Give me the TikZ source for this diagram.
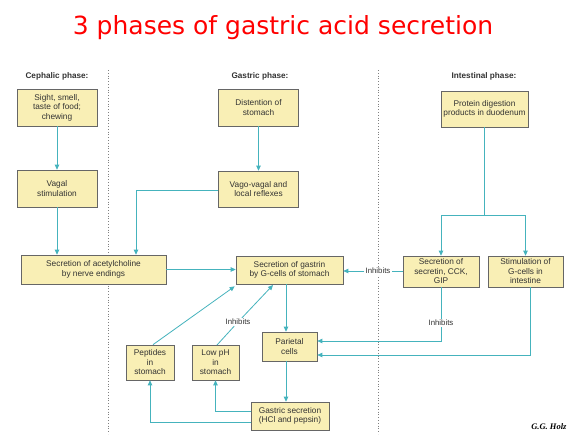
\documentclass[tikz,border=0pt]{standalone}
\usepackage{fontspec}
\setmainfont{Liberation Sans}
\newfontfamily\serifbi{Liberation Serif}
\newfontfamily\titlefont{DejaVu Sans}
\usetikzlibrary{arrows.meta,calc}
\definecolor{tealc}{HTML}{45B3BD}
\definecolor{boxfill}{HTML}{F9EFB5}
\definecolor{boxline}{HTML}{666666}
\definecolor{textc}{HTML}{333333}
\definecolor{titlec}{HTML}{FF0000}
\begin{document}
\begin{tikzpicture}[x=1pt,y=-1pt,
  box/.style={draw=boxline, fill=boxfill, line width=0.7pt, inner sep=1pt, align=center,
    font=\fontsize{8.3}{9.5}\selectfont, text=textc},
  conn/.style={draw=tealc, line width=0.8pt},
  arr/.style={conn, -{Triangle[length=5pt,width=4.5pt]}},
  lbl/.style={fill=white, inner sep=1pt, font=\fontsize{7.8}{9}\selectfont, text=textc},
  hdr/.style={font=\bfseries\fontsize{8.2}{9}\selectfont, text=textc},
  sepline/.style={draw=gray, line width=0.8pt, dash pattern=on 0.8pt off 2pt}]
\useasboundingbox[fill=white] (0,0) rectangle (572,434);

% title
\node[text=titlec, font=\titlefont\fontsize{25}{30}\selectfont] (title) at (283,28) {3 phases of gastric acid secretion};

% phase separators
\coordinate (s1t) at (108,70); \coordinate (s1b) at (108,434);
\coordinate (s2t) at (378,70); \coordinate (s2b) at (378,434);
\draw[sepline] (s1t) -- (s1b);
\draw[sepline] (s2t) -- (s2b);

% headers
\node[hdr] (hceph) at (57,76) {Cephalic phase:};
\node[hdr] (hgast) at (260,76) {Gastric phase:};
\node[hdr] (hint) at (484,76) {Intestinal phase:};

% boxes
\node[box, minimum width=80pt, minimum height=37pt] (sight) at (57,107.5) {Sight, smell,\\taste of food;\\chewing};
\node[box, minimum width=80pt, minimum height=37pt] (vagal) at (57,188.5) {Vagal\\stimulation};
\node[box, minimum width=145pt, minimum height=29pt] (ach) at (93.5,269.5) {Secretion of acetylcholine\\by nerve endings};
\node[box, minimum width=80pt, minimum height=37pt] (dist) at (258.5,107.5) {Distention of\\stomach};
\node[box, minimum width=80pt, minimum height=36pt] (vago) at (258.5,189) {Vago-vagal and\\local reflexes};
\node[box, minimum width=107pt, minimum height=28pt] (gastrin) at (289.5,270) {Secretion of gastrin\\by G-cells of stomach};
\node[box, minimum width=87pt, minimum height=36pt] (protein) at (484.5,109) {Protein digestion\\products in duodenum};
\node[box, minimum width=76pt, minimum height=31pt] (secretin) at (441,271.5) {Secretion of\\secretin, CCK,\\GIP};
\node[box, minimum width=75pt, minimum height=31pt] (stim) at (525.5,271.5) {Stimulation of\\G-cells in\\intestine};
\node[box, minimum width=55pt, minimum height=29pt] (parietal) at (289.5,346.5) {Parietal\\cells};
\node[box, minimum width=48pt, minimum height=35pt] (peptides) at (150,362.5) {Peptides\\in\\stomach};
\node[box, minimum width=47pt, minimum height=35pt] (lowph) at (215.5,362.5) {Low pH\\in\\stomach};
\node[box, minimum width=78pt, minimum height=28pt] (gsec) at (290,416) {Gastric secretion\\(HCl and pepsin)};

% labels
\node[lbl] (inh1) at (378,271) {Inhibits};
\node[lbl] (inh2) at (441,323) {Inhibits};
\node[lbl] (inh3) at (238,322) {Inhibits};

% connectors
\draw[arr] (sight) -- (vagal);
\draw[arr] (vagal.south) -- (vagal.south |- ach.north);
\draw[arr] (dist) -- (vago);
\draw[arr] (vago.west |- 0,190) -| (136,0 |- ach.north);
\draw[arr] (ach.east) -- (ach.east -| gastrin.west);
\coordinate (split) at (484,215);
\draw[conn] (protein.south -| split) -- (split);
\draw[arr] (split) -| (secretin.north);
\draw[arr] (split) -| (stim.north);
\draw[conn] (secretin.west |- inh1) -- (inh1);
\draw[arr] (inh1) -- (inh1 -| gastrin.east);
\draw[conn] (secretin.south) -- (inh2);
\draw[arr] (inh2) |- ([yshift=5.5pt]parietal.east);
\draw[arr] ([xshift=4.5pt]stim.south) |- ([yshift=-8.5pt]parietal.east);
\draw[arr] ([xshift=-3.5pt]gastrin.south) -- ([xshift=-3.5pt]gastrin.south |- parietal.north);
\draw[arr] ([xshift=-3.5pt]gastrin.south |- parietal.south) -- ([xshift=-3.5pt]gastrin.south |- gsec.north);
\draw[arr] ([yshift=5pt]gsec.west) -| (lowph.south);
\draw[arr] ([yshift=-6pt]gsec.west) -| (peptides.south);
\draw[arr] ([xshift=3pt]peptides.north) -- ([xshift=-1pt,yshift=-2pt]gastrin.south west);
\coordinate (lp) at (217,345);
\coordinate (gp) at (273,285);
\draw[conn] (lp) -- (inh3);
\draw[arr] (inh3) -- (gp);

% credit
\node[font=\serifbi\bfseries\itshape\fontsize{8.5}{10}\selectfont, anchor=east] (credit) at (570,427) {G.G. Holz};
\end{tikzpicture}
\end{document}
